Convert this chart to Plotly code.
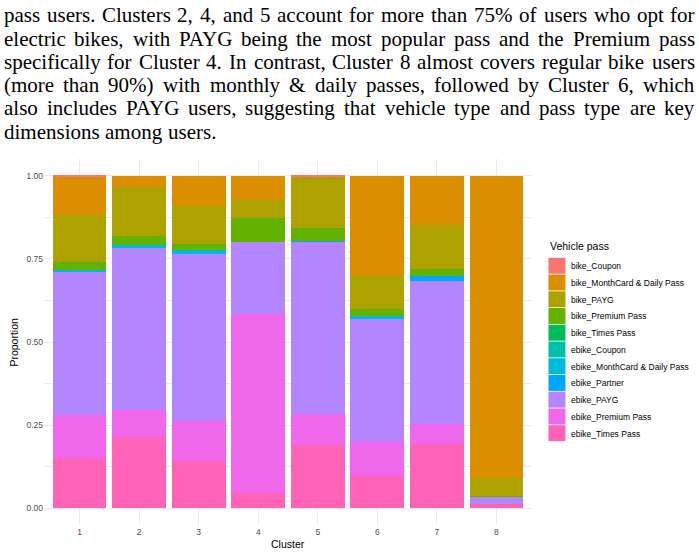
import plotly.graph_objects as go

# ---------------- data ----------------
clusters = ["1", "2", "3", "4", "5", "6", "7", "8"]

series_names = [
    "bike_Coupon", "bike_MonthCard & Daily Pass", "bike_PAYG", "bike_Premium Pass",
    "bike_Times Pass", "ebike_Coupon", "ebike_MonthCard & Daily Pass", "ebike_Partner",
    "ebike_PAYG", "ebike_Premium Pass", "ebike_Times Pass",
]
series_colors = [
    "#F8766D", "#DB8E00", "#AEA200", "#64B200", "#00BD5C", "#00C1A7",
    "#00BADE", "#00A6FF", "#B385FF", "#EF67EB", "#FF63B6",
]

bike_coupon = [0.003, 0.0, 0.0, 0.0, 0.004, 0.0, 0.0, 0.0]
bike_monthcard = [0.115, 0.033, 0.091, 0.072, 0.0, 0.303, 0.147, 0.909]
bike_payg = [0.141, 0.148, 0.114, 0.055, 0.153, 0.098, 0.133, 0.053]
bike_premium = [0.025, 0.027, 0.018, 0.072, 0.039, 0.021, 0.022, 0.002]
bike_times = [0.0] * 8
ebike_coupon = [0.0] * 8
ebike_monthcard = [0.007, 0.008, 0.012, 0.0, 0.0, 0.006, 0.0, 0.0]
ebike_partner = [0.0, 0.0, 0.0, 0.0, 0.003, 0.0, 0.014, 0.0]
ebike_payg = [0.429, 0.489, 0.503, 0.217, 0.516, 0.371, 0.431, 0.024]
ebike_premium = [0.132, 0.082, 0.120, 0.539, 0.096, 0.103, 0.060, 0.0]
ebike_times = [0.148, 0.213, 0.142, 0.045, 0.189, 0.098, 0.193, 0.012]

series_values = [
    bike_coupon, bike_monthcard, bike_payg, bike_premium, bike_times, ebike_coupon,
    ebike_monthcard, ebike_partner, ebike_payg, ebike_premium, ebike_times,
]

y_ticks = [0.0, 0.25, 0.5, 0.75, 1.0]
y_tick_labels = ["0.00", "0.25", "0.50", "0.75", "1.00"]

text_lines = [
    "pass users. Clusters 2, 4, and 5 account for more than 75% of users who opt for",
    "electric bikes, with PAYG being the most popular pass and the Premium pass",
    "specifically for Cluster 4. In contrast, Cluster 8 almost covers regular bike users",
    "(more than 90%) with monthly & daily passes, followed by Cluster 6, which",
    "also includes PAYG users, suggesting that vehicle type and pass type are key",
    "dimensions among users.",
]

# ---------------- layout geometry ----------------
W, H = 699, 555
PL, PR, PT, PB = 43.5, 532.5, 159.4, 524.6  # panel edges in pixels


def px2x(px):
    return (px - PL) / (PR - PL)


def py2y(py):
    return (PB - py) / (PB - PT)


# Times / Liberation Serif advance widths (per 1000 em) for justification
_TW = dict(zip("abcdefghijklmnopqrstuvwxyz",
               [444, 500, 444, 500, 444, 333, 500, 500, 278, 278, 500, 278, 778,
                500, 500, 500, 500, 333, 389, 278, 500, 500, 722, 500, 500, 444]))
_TW.update(dict(zip("ABCDEFGHIJKLMNOPQRSTUVWXYZ",
                    [722, 667, 667, 722, 611, 556, 722, 722, 333, 389, 722, 611, 889,
                     722, 722, 556, 722, 667, 556, 611, 722, 722, 944, 722, 722, 611])))
_TW.update({c: 500 for c in "0123456789"})
_TW.update({".": 250, ",": 250, "%": 833, "(": 333, ")": 333, "&": 778, " ": 250})
_KERN = {("P", "A"): -92, ("A", "Y"): -105}


def word_width(word, fs):
    total = sum(_TW.get(c, 500) for c in word)
    total += sum(_KERN.get((a, b), 0) for a, b in zip(word, word[1:]))
    return total * fs / 1000.0


fig = go.Figure()
# ggplot stacks the first level on top -> add in reverse order
for name, vals, col in reversed(list(zip(series_names, series_values, series_colors))):
    fig.add_trace(go.Bar(
        x=clusters, y=vals, name=name, marker=dict(color=col, line=dict(width=0)),
        showlegend=False,
    ))

annotations = []
shapes = []

# paragraph text, justified word by word
TEXT_FS = 21
TEXT_LEFT, TEXT_RIGHT = 1.0, 693.5
for i, line in enumerate(text_lines):
    baseline = 23 + 23.2 * i
    yc = py2y(baseline - 0.33 * TEXT_FS)
    words = line.split(" ")
    widths = [word_width(w, TEXT_FS) for w in words]
    last = i == len(text_lines) - 1
    if last or len(words) == 1:
        gap = word_width(" ", TEXT_FS) * 1.1
    else:
        gap = (TEXT_RIGHT - TEXT_LEFT - sum(widths)) / (len(words) - 1)
    xcur = TEXT_LEFT
    for w, wd in zip(words, widths):
        annotations.append(dict(
            text=w, xref="paper", yref="paper", x=px2x(xcur), y=yc,
            xanchor="left", yanchor="middle", showarrow=False,
            font=dict(family="Liberation Serif", size=TEXT_FS, color="black"),
        ))
        xcur += wd + gap

# axis titles
annotations.append(dict(
    text="Cluster", xref="paper", yref="paper", x=px2x(288), y=py2y(543.5),
    xanchor="center", yanchor="middle", showarrow=False,
    font=dict(family="Liberation Sans", size=10.5, color="black"),
))
annotations.append(dict(
    text="Proportion", xref="paper", yref="paper", x=px2x(13), y=py2y(342),
    xanchor="center", yanchor="middle", showarrow=False, textangle=-90,
    font=dict(family="Liberation Sans", size=10.5, color="black"),
))

# custom legend (ggplot-style)
annotations.append(dict(
    text="Vehicle pass", xref="paper", yref="paper", x=px2x(549), y=py2y(246.7),
    xanchor="left", yanchor="middle", showarrow=False,
    font=dict(family="Liberation Sans", size=10.5, color="black"),
))
KEY_TOP, KEY_H = 258.0, 16.7
for i, (name, col) in enumerate(zip(series_names, series_colors)):
    top = KEY_TOP + i * KEY_H
    shapes.append(dict(
        type="rect", xref="paper", yref="paper",
        x0=px2x(549), x1=px2x(566), y0=py2y(top + KEY_H - 0.8), y1=py2y(top),
        fillcolor=col, line=dict(width=0), layer="above",
    ))
    annotations.append(dict(
        text=name, xref="paper", yref="paper", x=px2x(570), y=py2y(top + KEY_H / 2),
        xanchor="left", yanchor="middle", showarrow=False,
        font=dict(family="Liberation Sans", size=8.5, color="black"),
    ))

grid = "#EBEBEB"
fig.update_layout(
    width=W, height=H,
    margin=dict(l=PL, r=W - PR, t=PT, b=H - PB, pad=0),
    paper_bgcolor="white", plot_bgcolor="white",
    barmode="stack", bargap=0.1,
    font=dict(family="Liberation Sans", color="#4D4D4D"),
    annotations=annotations, shapes=shapes,
    xaxis=dict(
        type="category", range=[-0.6, 7.6], showgrid=True, gridcolor=grid, gridwidth=1.1,
        ticks="", zeroline=False, showline=False,
        tickfont=dict(size=8.5, color="#4D4D4D"),
    ),
    yaxis=dict(
        range=[-0.05, 1.05], tickvals=y_ticks, ticktext=y_tick_labels,
        showgrid=True, gridcolor=grid, gridwidth=1.1, zeroline=False, showline=False,
        ticks="", tickfont=dict(size=8.5, color="#4D4D4D"),
        minor=dict(dtick=0.125, tick0=0, showgrid=True, gridcolor=grid, gridwidth=0.55),
    ),
)

fig.write_html("out.html")
